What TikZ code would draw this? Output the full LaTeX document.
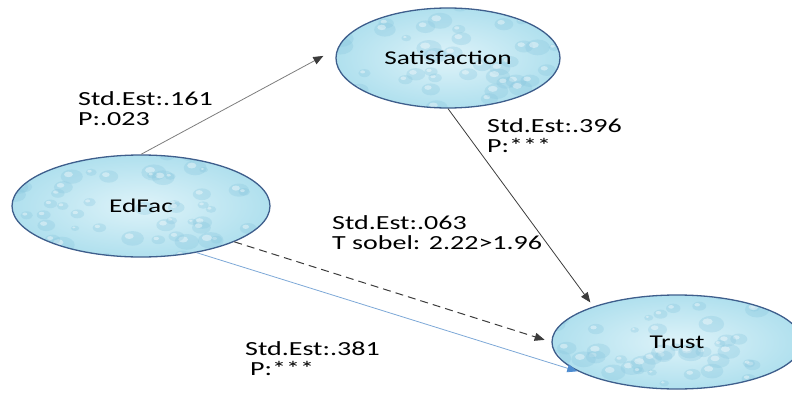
\documentclass[tikz,border=0pt]{standalone}
\usepackage{fontspec}
\newfontfamily\calfont{Carlito}[FakeStretch=1.4]
\usepackage{xcolor}
\usepackage{tikz}
\usetikzlibrary{shapes.geometric,arrows.meta,calc}
\definecolor{dropfill}{RGB}{176,224,238}
\definecolor{droplight}{RGB}{222,243,249}
\definecolor{dropdark}{RGB}{136,198,222}
\definecolor{dropedge}{RGB}{62,94,140}
\definecolor{pathgray}{RGB}{125,125,125}
\definecolor{pathdark}{RGB}{60,60,60}
\definecolor{pathblue}{RGB}{125,168,215}
\definecolor{tipblue}{RGB}{78,140,208}
\newcommand\waterdrops[1]{%
  \pgfmathsetseed{#1}%
  \foreach \k in {1,...,60}{%
    \pgfmathsetmacro\dx{260*rnd-130}%
    \pgfmathsetmacro\dy{110*rnd-55}%
    \pgfmathsetmacro\dr{4+9*rnd}%
    \fill[dropdark,opacity=.3] ($(path picture bounding box.center)+(\dx,\dy)$)
      ellipse [x radius=\dr pt,y radius=0.65*\dr pt];
    \fill[white,opacity=.4] ($(path picture bounding box.center)+(\dx-0.3*\dr,\dy-0.2*\dr)$)
      ellipse [x radius=0.4*\dr pt,y radius=0.25*\dr pt];
  }}
\tikzset{latentnode/.style={shape=ellipse,draw=dropedge,line width=1.3pt,inner sep=0pt,
    inner color=droplight,outer color=dropfill,path picture={\waterdrops{#1}},
    font=\calfont\fontsize{19.5}{22}\selectfont},
  estlabel/.style={anchor=north west,inner sep=0pt,align=left,
    font=\calfont\fontsize{20}{20.5}\selectfont},
  darktip/.style={-{Triangle[length=10pt,width=8pt,color=pathdark]}},
  bluetip/.style={-{Triangle[length=10pt,width=8pt,color=tipblue]}}}

\begin{document}
\begin{tikzpicture}[x=1pt,y=-1pt]
		\useasboundingbox (0,0) rectangle (792,393);
		%
		\node[latentnode=3,minimum width=224pt,minimum height=100pt] (sat) at (448,58) {Satisfaction};
		\node[latentnode=11,minimum width=258pt,minimum height=102pt] (edfac) at (141,206) {EdFac};
		\node[latentnode=27,minimum width=250pt,minimum height=94pt] (trust) at (677,342) {Trust};
		%
		\draw[darktip,pathgray,line width=.8pt,shorten >=16pt] (edfac.north) -- (sat.175);
		\draw[darktip,pathdark,line width=.8pt,shorten >=5pt] (sat.south) -- (trust.157);
		\draw[darktip,pathdark,line width=1pt,dash pattern=on 8pt off 5pt,shorten >=7pt] (edfac.-21) -- (trust.west);
		\draw[bluetip,pathblue,line width=.8pt,shorten >=2pt] (edfac.-40) -- (trust.197);
		%
		\node[estlabel] (l161) at (78,91) {Std.Est:.161\\P:.023};
		\node[estlabel] (l396) at (487,118) {Std.Est:.396\\P:***};
		\node[estlabel] (l063) at (332,215) {Std.Est:.063\\T sobel: 2.22>1.96};
		\node[estlabel] (l381) at (245,341) {Std.Est:.381\\\hspace{5pt}P:***};
	\end{tikzpicture}
\end{document}
